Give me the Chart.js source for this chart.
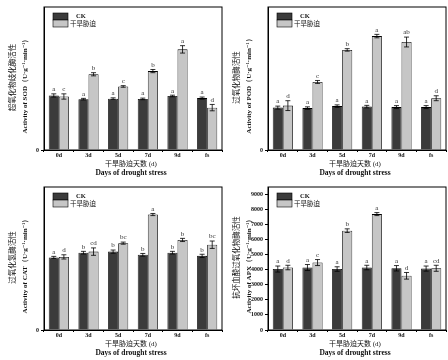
<!DOCTYPE html>
<html lang="zh">
<head>
<meta charset="UTF-8">
<title>Antioxidant enzymes under drought stress</title>
<style>
  body { margin: 0; background: #fff; }
  .wrap { position: relative; width: 448px; height: 360px; }
  .panel { position: absolute; width: 224px; height: 180px; }
</style>
</head>
<body>
<div class="wrap">
  <div class="panel" style="left:0;top:0"><canvas id="sod" width="224" height="180"></canvas></div>
  <div class="panel" style="left:224px;top:0"><canvas id="pod" width="224" height="180"></canvas></div>
  <div class="panel" style="left:0;top:180px"><canvas id="cat" width="224" height="180"></canvas></div>
  <div class="panel" style="left:224px;top:180px"><canvas id="apx" width="224" height="180"></canvas></div>
</div>

<script src="https://cdn.jsdelivr.net/npm/chart.js"></script>
<script>
// categories
const days = ['0d', '3d', '5d', '7d', '9d', 'fs'];
const seriesNames = ['CK', '干旱胁迫'];

// SOD
const sodCK = [1030, 960, 970, 965, 1020, 980];
const sodCKErr = [30, 15, 15, 15, 15, 20];
const sodDS = [1010, 1430, 1200, 1490, 1900, 800];
const sodDSErr = [50, 30, 15, 30, 70, 60];
const sodCKLetters = ['a', 'a', 'a', 'a', 'a', 'a'];
const sodDSLetters = ['c', 'b', 'c', 'b', 'a', 'd'];

// POD
const podCK = [1720, 1700, 1780, 1760, 1740, 1740];
const podCKErr = [60, 50, 50, 50, 60, 60];
const podDS = [1800, 2760, 4060, 4620, 4380, 2100];
const podDSErr = [200, 60, 50, 70, 200, 100];
const podCKLetters = ['a', 'a', 'a', 'a', 'a', 'a'];
const podDSLetters = ['d', 'c', 'b', 'a', 'ab', 'd'];

// CAT
const catCK = [1370, 1460, 1480, 1420, 1460, 1400];
const catCKErr = [20, 25, 30, 25, 25, 30];
const catDS = [1380, 1480, 1640, 2180, 1700, 1610];
const catDSErr = [40, 70, 20, 20, 30, 70];
const catCKLetters = ['a', 'b', 'b', 'b', 'b', 'b'];
const catDSLetters = ['d', 'cd', 'bc', 'a', 'b', 'bc'];

// APX
const apxCK = [4050, 4150, 4050, 4150, 4100, 4080];
const apxCKErr = [200, 200, 150, 150, 180, 170];
const apxDS = [4150, 4480, 6600, 7700, 3600, 4100];
const apxDSErr = [150, 200, 120, 100, 220, 200];
const apxCKLetters = ['a', 'a', 'a', 'a', 'a', 'a'];
const apxDSLetters = ['d', 'c', 'b', 'a', 'd', 'cd'];

const serif = "'Liberation Serif', 'DejaVu Serif', serif";
const cjk = "'Liberation Serif', 'Noto Sans CJK SC', sans-serif";

// error bars, letters, frame, legend and axis titles
const extrasPlugin = {
  id: 'extras',
  afterDatasetsDraw(chart) {
    const ctx = chart.ctx;
    const y = chart.scales.y;
    const o = chart.options.plugins.extras;
    ctx.save();
    chart.data.datasets.forEach((ds, i) => {
      const meta = chart.getDatasetMeta(i);
      meta.data.forEach((bar, j) => {
        const v = ds.data[j], e = o.errors[i][j];
        const yt = y.getPixelForValue(v + e);
        const yb = y.getPixelForValue(v - e);
        ctx.strokeStyle = '#000';
        ctx.lineWidth = 0.8;
        ctx.beginPath();
        ctx.moveTo(bar.x, yt); ctx.lineTo(bar.x, yb);
        ctx.moveTo(bar.x - 2.5, yt); ctx.lineTo(bar.x + 2.5, yt);
        ctx.moveTo(bar.x - 2.5, yb); ctx.lineTo(bar.x + 2.5, yb);
        ctx.stroke();
        ctx.fillStyle = '#333';
        ctx.font = '7px ' + serif;
        ctx.textAlign = 'center';
        ctx.textBaseline = 'bottom';
        ctx.fillText(o.letters[i][j], bar.x, yt - 1);
      });
    });
    ctx.restore();
  },
  afterDraw(chart) {
    const ctx = chart.ctx;
    const a = chart.chartArea;
    const o = chart.options.plugins.extras;
    ctx.save();
    // frame
    ctx.strokeStyle = '#000';
    ctx.lineWidth = 1;
    ctx.strokeRect(a.left, a.top, a.right - a.left, a.bottom - a.top);
    // legend
    const lx = a.left + 9, ly = a.top + 6;
    chart.data.datasets.forEach((ds, i) => {
      ctx.fillStyle = ds.backgroundColor;
      ctx.fillRect(lx, ly + i * 7, 15, 7);
      ctx.strokeStyle = '#000';
      ctx.lineWidth = 0.6;
      ctx.strokeRect(lx, ly + i * 7, 15, 7);
    });
    ctx.fillStyle = '#111';
    ctx.textBaseline = 'middle';
    ctx.textAlign = 'left';
    ctx.font = 'bold 6.5px ' + serif;
    ctx.fillText(seriesNames[0], lx + 23, ly + 3.5);
    ctx.font = '6.5px ' + cjk;
    ctx.fillText(seriesNames[1], lx + 17, ly + 11);
    // x titles
    const cx = (a.left + a.right) / 2 - 2;
    ctx.textAlign = 'center';
    ctx.font = '7px ' + cjk;
    ctx.fillText('干旱胁迫天数 (d)', cx, a.bottom + 14.5);
    ctx.font = 'bold 7.5px ' + serif;
    ctx.fillText('Days of drought stress', cx, a.bottom + 23.5);
    // y titles
    const cy = (a.top + a.bottom) / 2;
    ctx.translate(a.left - 31, cy);
    ctx.rotate(-Math.PI / 2);
    ctx.font = '7.5px ' + cjk;
    ctx.fillText(o.yTitleCn, 1, 0);
    ctx.font = 'bold 7px ' + serif;
    ctx.fillText(o.yTitleEn, -6, 12);
    ctx.restore();
  }
};

function makeChart(id, ck, ckErr, ds, dsErr, ckLetters, dsLetters, yMax, step, titleCn, titleEn) {
  new Chart(document.getElementById(id), {
    type: 'bar',
    data: {
      labels: days,
      datasets: [
        { label: seriesNames[0], data: ck, backgroundColor: '#3b3b3b', borderColor: '#000', borderWidth: 0.8 },
        { label: seriesNames[1], data: ds, backgroundColor: '#c6c6c6', borderColor: '#000', borderWidth: 0.8 }
      ]
    },
    options: {
      responsive: false,
      animation: false,
      layout: { padding: { top: 7, right: 2, left: 0, bottom: 0 } },
      datasets: { bar: { categoryPercentage: 0.68, barPercentage: 1.0 } },
      plugins: {
        legend: { display: false },
        tooltip: { enabled: false },
        extras: {
          errors: [ckErr, dsErr],
          letters: [ckLetters, dsLetters],
          yTitleCn: titleCn,
          yTitleEn: titleEn
        }
      },
      scales: {
        x: {
          grid: { display: true, drawOnChartArea: false, offset: true, tickLength: 2, color: '#000' },
          border: { color: '#000', width: 1 },
          ticks: { font: { family: serif, size: 6, weight: 'bold' }, color: '#111', padding: 0 },
          afterFit(s) { s.height = 30; }
        },
        y: {
          min: 0,
          max: yMax,
          grid: { display: true, drawOnChartArea: false, tickLength: 3, color: '#000' },
          border: { color: '#000', width: 1 },
          ticks: {
            stepSize: step / 2,
            font: { family: serif, size: 6, weight: 'bold' },
            color: '#111',
            padding: 2,
            callback: v => (v % step === 0 ? v : '')
          },
          afterBuildTicks(s) { s.ticks = s.ticks.filter(t => t.value % (step / 2) === 0); },
          afterFit(s) { s.width = 44; }
        }
      }
    },
    plugins: [extrasPlugin]
  });
}

makeChart('sod', sodCK, sodCKErr, sodDS, sodDSErr, sodCKLetters, sodDSLetters, 2700, 500,
  '超氧化物歧化酶活性', 'Activity of SOD（U·g⁻¹·min⁻¹）');
makeChart('pod', podCK, podCKErr, podDS, podDSErr, podCKLetters, podDSLetters, 5800, 1000,
  '过氧化物酶活性', 'Activity of POD（U·g⁻¹·min⁻¹）');
makeChart('cat', catCK, catCKErr, catDS, catDSErr, catCKLetters, catDSLetters, 2700, 1000,
  '过氧化氢酶活性', 'Activity of CAT（U·g⁻¹·min⁻¹）');
makeChart('apx', apxCK, apxCKErr, apxDS, apxDSErr, apxCKLetters, apxDSLetters, 9500, 1000,
  '抗坏血酸过氧化物酶活性', 'Activity of APX（U·g⁻¹·min⁻¹）');
</script>
</body>
</html>
